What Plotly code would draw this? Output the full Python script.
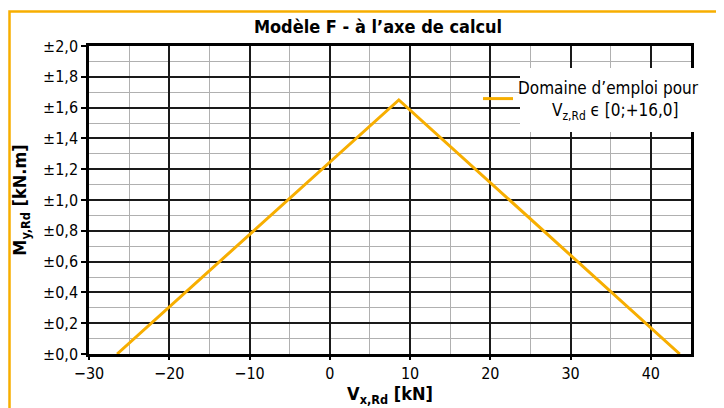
import plotly.graph_objects as go

# ---- data ----
vx_values = [-26.5, 8.6, 43.6]
my_values = [0.0, 1.65, 0.0]
series_name = "Domaine d’emploi pour<br>\u00a0\u00a0\u00a0\u00a0\u00a0\u00a0\u00a0V<sub>z,Rd</sub> ϵ [0;+16,0]"
y_tick_vals = [0.0, 0.2, 0.4, 0.6, 0.8, 1.0, 1.2, 1.4, 1.6, 1.8, 2.0]
y_tick_text = ["±0,0", "±0,2", "±0,4", "±0,6", "±0,8", "±1,0", "±1,2", "±1,4", "±1,6", "±1,8", "±2,0"]
x_tick_vals = [-30, -20, -10, 0, 10, 20, 30, 40]
title_text = "<b>Modèle F - à l’axe de calcul</b>"
x_title = "<b>V<sub>x,Rd</sub> [kN]</b>"
y_title = "<b>M<sub>y,Rd</sub> [kN.m]</b>"

FONT = "Liberation Sans Narrow, DejaVu Sans Condensed, Roboto, sans-serif"
ORANGE = "#F7AE00"

fig = go.Figure()
fig.add_trace(go.Scatter(x=vx_values, y=my_values, mode="lines", name=series_name,
                         line=dict(color=ORANGE, width=3), showlegend=True))

OFF = 8  # page body margin
W, H = 716, 400
# target page-pixel positions of the plot area
PL, PR, PT, PB = 89, 691, 46, 354
L, T = PL - OFF, PT - OFF
R, B = W - (PR - OFF), H - (PB - OFF)
pw, ph = W - L - R, H - T - B

def px(xp):
    return (xp - OFF - L) / pw

def py(yp):
    return (H - B - (yp - OFF)) / ph

fig.update_layout(
    width=W, height=H,
    margin=dict(l=L, r=R, t=T, b=B, autoexpand=False),
    paper_bgcolor="white", plot_bgcolor="white",
    font=dict(family=FONT, color="black", size=16),
    title=dict(text=title_text, x=px(378), xref="paper", xanchor="center",
               y=1 - (27 - OFF) / H, yanchor="middle", font=dict(size=18, family=FONT)),
    showlegend=True,
    legend=dict(x=px(478), y=py(70), xanchor="left", yanchor="top",
                bgcolor="rgba(0,0,0,0)", borderwidth=0,
                font=dict(size=17, family=FONT)),
    shapes=[
        dict(type="rect", xref="paper", yref="paper",
             x0=px(9.5), x1=px(740), y0=py(430), y1=py(11.5),
             line=dict(color=ORANGE, width=2.5), fillcolor="rgba(0,0,0,0)", layer="below"),
        dict(type="rect", xref="paper", yref="paper",
             x0=px(520), x1=px(710), y0=py(132), y1=py(68),
             line=dict(width=0), fillcolor="white", layer="above"),
    ],
)

fig.update_xaxes(
    range=[-30, 45], tickvals=x_tick_vals, ticks="outside", ticklen=3, tickwidth=1.5,
    tickcolor="black", tickfont=dict(size=16),
    showgrid=True, gridcolor="#1a1a1a", gridwidth=1.5,
    minor=dict(tickmode="linear", tick0=-30, dtick=5, showgrid=True, gridcolor="#b0b0b0", gridwidth=1),
    showline=True, linecolor="black", linewidth=2.5, mirror=True, zeroline=False,
    title=dict(text=x_title, font=dict(size=18), standoff=3),
)
fig.update_yaxes(
    range=[0, 2], tickvals=y_tick_vals, ticktext=y_tick_text, ticks="outside", ticklen=5,
    tickwidth=1.5, tickcolor="black", tickfont=dict(size=16),
    showgrid=True, gridcolor="#1a1a1a", gridwidth=1.5,
    minor=dict(tickmode="linear", tick0=0, dtick=0.1, showgrid=True, gridcolor="#b0b0b0", gridwidth=1),
    showline=True, linecolor="black", linewidth=2.5, mirror=True, zeroline=False,
    title=dict(text=y_title, font=dict(size=18), standoff=12),
)

fig.write_html("out.html")
